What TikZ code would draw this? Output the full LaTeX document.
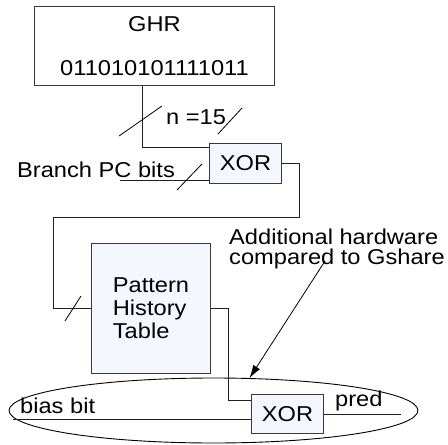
\documentclass[tikz,border=0pt]{standalone}
\usepackage{fontspec}
\setmainfont[FakeStretch=1.1]{Liberation Sans}
\usetikzlibrary{arrows.meta,shapes.geometric}
\definecolor{boxfill}{HTML}{F5F7FF}
\definecolor{edge}{HTML}{3A3A3A}
\definecolor{wirec}{HTML}{202020}
\begin{document}
\begin{tikzpicture}[x=1pt,y=-1pt,
  every node/.style={font=\fontsize{21.5}{22}\selectfont},
  block/.style={draw=edge,line width=1pt,fill=boxfill,inner sep=0pt,align=center},
  wire/.style={draw=wirec,line width=1pt},
  tick/.style={draw=black,line width=0.8pt},
  lbl/.style={inner sep=0pt,anchor=base west}]
\useasboundingbox (0,0) rectangle (448,445);

% enclosing ellipse for the extra logic
\node[draw=black,line width=0.9pt,ellipse,minimum width=409pt,minimum height=65pt,inner sep=0pt] (hw) at (213.5,410.5) {};

% blocks (edges on pixel centres)
\node[block,fill=white,minimum width=240pt,minimum height=79pt,font=\fontsize{21.5}{44}\selectfont] (ghr) at (154.5,46) {GHR\\011010101111011};
\node[block,minimum width=72pt,minimum height=40pt] (xor1) at (245.5,163.5) {XOR};
\node[block,minimum width=119pt,minimum height=130pt,align=left,font=\fontsize{21.5}{23}\selectfont] (pht) at (151,308.5) {Pattern\\History\\Table};
\node[block,minimum width=72pt,minimum height=39pt] (xor2) at (287.5,414) {XOR};

% labels
\node[lbl] (n15) at (166,124) {n =15};
\node[lbl] (bpc) at (17,177) {Branch PC bits};
\node[lbl] (bias) at (20,413) {bias bit};
\node[lbl] (pred) at (335,406) {pred};
\node[inner sep=0pt,anchor=base west,align=left,font=\fontsize{21.5}{19.5}\selectfont] (add) at (229,264) {Additional hardware\\compared to Gshare};

% free wire ends
\coordinate (bpcin) at (120,180.5);
\coordinate (biasin) at (13,419.5);
\coordinate (predout) at (401,414.5);
\coordinate (tail) at (325,261);

% wires
\draw[wire] ([xshift=-12pt]ghr.south) |- ([yshift=16pt]xor1.west);
\draw[wire] (bpcin) -- ([yshift=-17pt]xor1.west);
\draw[wire] (xor1.east) -| (299.5,217.5) -| (53.5,308.5) -- (pht.west);
\draw[wire] (pht.east) -| (228.5,400.5) -- ([yshift=13.5pt]xor2.west);
\draw[wire] (biasin) -- ([yshift=-5.5pt]xor2.west);
\draw[wire] ([yshift=-0.5pt]xor2.east) -- (predout);

% bus width marks
\draw[tick] (119,136) -- (162,106);
\draw[tick] (218,134) -- (242,108);
\draw[tick] (177,190) -- (202,164);
\draw[tick] (65,321) -- (81,296);

% pointer to the added logic
\draw[line width=0.8pt,-{Latex[length=13pt,width=8pt]}] (tail) -- (hw.42);
\end{tikzpicture}
\end{document}
